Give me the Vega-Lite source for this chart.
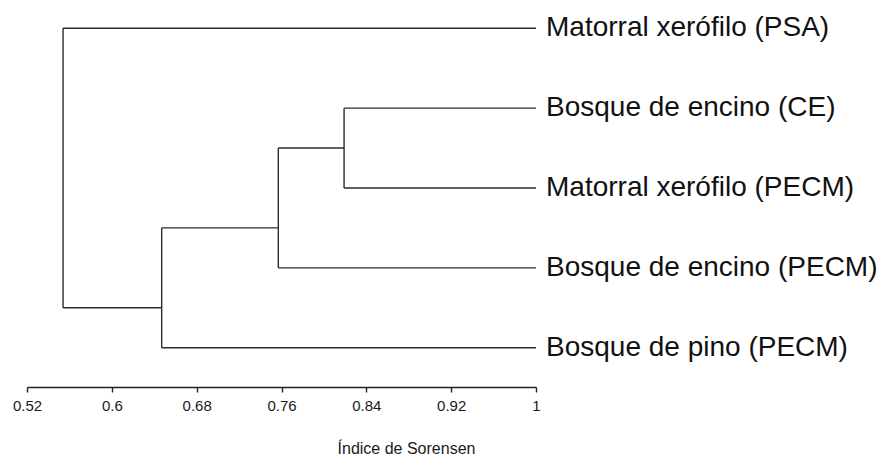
{
  "$schema": "https://vega.github.io/schema/vega-lite/v6.json",
  "width": 509,
  "height": 387,
  "autosize": {"type": "none"},
  "padding": {"left": 27, "top": 0, "right": 351, "bottom": 68},
  "background": "white",
  "config": {"view": {"stroke": null}},
  "datasets": {
    "segments": [
      {"x": 0.554, "x2": 1, "y": 0, "y2": 0},
      {"x": 0.554, "x2": 0.554, "y": 0, "y2": 3.5},
      {"x": 0.554, "x2": 0.647, "y": 3.5, "y2": 3.5},
      {"x": 0.647, "x2": 0.647, "y": 2.5, "y2": 4},
      {"x": 0.647, "x2": 1, "y": 4, "y2": 4},
      {"x": 0.647, "x2": 0.757, "y": 2.5, "y2": 2.5},
      {"x": 0.757, "x2": 0.757, "y": 1.5, "y2": 3},
      {"x": 0.757, "x2": 1, "y": 3, "y2": 3},
      {"x": 0.757, "x2": 0.819, "y": 1.5, "y2": 1.5},
      {"x": 0.819, "x2": 0.819, "y": 1, "y2": 2},
      {"x": 0.819, "x2": 1, "y": 1, "y2": 1},
      {"x": 0.819, "x2": 1, "y": 2, "y2": 2}
    ],
    "leaves": [
      {"label": "Matorral xerófilo (PSA)", "x": 1, "y": 0},
      {"label": "Bosque de encino (CE)", "x": 1, "y": 1},
      {"label": "Matorral xerófilo (PECM)", "x": 1, "y": 2},
      {"label": "Bosque de encino (PECM)", "x": 1, "y": 3},
      {"label": "Bosque de pino (PECM)", "x": 1, "y": 4}
    ]
  },
  "layer": [
    {
      "data": {"name": "segments"},
      "mark": {"type": "rule", "color": "#2a2a2a", "strokeWidth": 1.4},
      "encoding": {
        "x": {
          "field": "x",
          "type": "quantitative",
          "scale": {"domain": [0.52, 1], "nice": false, "zero": false},
          "axis": {
            "values": [0.52, 0.6, 0.68, 0.76, 0.84, 0.92, 1],
            "labelExpr": "datum.value == 1 ? '1' : format(datum.value, '.2~f')",
            "grid": false,
            "domainColor": "#222222",
            "domainWidth": 1.4,
            "tickColor": "#222222",
            "tickWidth": 1.4,
            "tickSize": 5,
            "labelFont": "Liberation Sans",
            "labelFontSize": 15,
            "labelColor": "#1a1a1a",
            "labelPadding": 6,
            "labelFlush": false,
            "title": "Índice de Sorensen",
            "titleFont": "Liberation Sans",
            "titleFontSize": 16,
            "titleFontWeight": "normal",
            "titleColor": "#1a1a1a",
            "titleAnchor": null,
            "titleAlign": "center",
            "titleBaseline": "middle",
            "titleX": 379,
            "titleY": 61
          }
        },
        "x2": {"field": "x2"},
        "y": {
          "field": "y",
          "type": "quantitative",
          "scale": {"domain": [-0.354, 4.492], "nice": false, "zero": false, "reverse": true},
          "axis": null
        },
        "y2": {"field": "y2"}
      }
    },
    {
      "data": {"name": "leaves"},
      "mark": {
        "type": "text",
        "align": "left",
        "baseline": "middle",
        "dx": 10,
        "font": "Liberation Sans",
        "fontSize": 28,
        "color": "#111111"
      },
      "encoding": {
        "x": {"field": "x", "type": "quantitative"},
        "y": {"field": "y", "type": "quantitative"},
        "text": {"field": "label"}
      }
    }
  ]
}
